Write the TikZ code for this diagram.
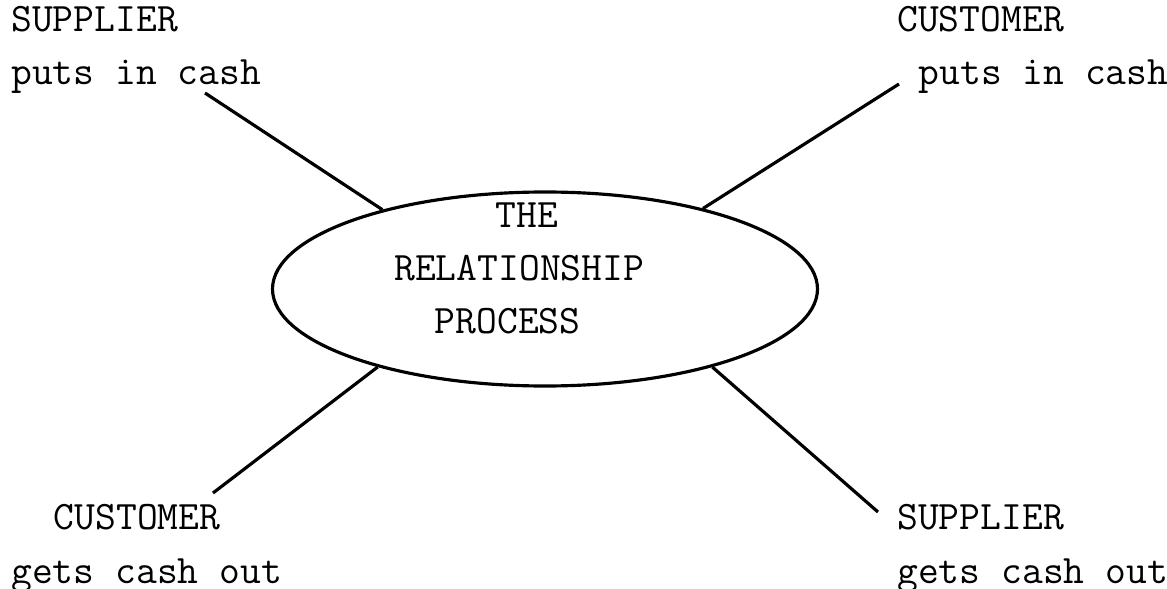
\documentclass[tikz,border=0pt]{standalone}
\usetikzlibrary{shapes.geometric}

\begin{document}
\begin{tikzpicture}[
        label/.style={anchor=base west, inner sep=0pt, align=left, font=\ttfamily\fontsize{23}{30.4}\selectfont},
        proceso/.style={draw, ellipse, line width=1.8pt, minimum width=10.9cm, minimum height=3.88cm, inner sep=0pt},
        rayo/.style={line width=1.8pt}
    ]
    \useasboundingbox (0,0) rectangle (23.34,-11.78);

    \node (proc) [proceso] at (10.9,-5.78) {};
    \node (proctext) [label] at (7.88,-6.68) {\hspace*{2.5em}THE\\RELATIONSHIP\\\hspace*{1.0em}PROCESS};

    \node (supin) [label] at (0.22,-1.70) {SUPPLIER\\puts in cash};
    \node (custin) [label] at (17.94,-1.70) {CUSTOMER\\\hspace*{0.525em}puts in cash};
    \node (custout) [label] at (0.22,-11.66) {\hspace*{1.05em}CUSTOMER\\gets cash out};
    \node (supout) [label] at (17.94,-11.66) {SUPPLIER\\gets cash out};

    \coordinate (a1) at (4.10,-1.86);
    \coordinate (a2) at (17.98,-1.68);
    \coordinate (a3) at (4.26,-9.86);
    \coordinate (a4) at (17.56,-10.24);

    \draw [rayo] (a1) -- (proc.154.8);
    \draw [rayo] (a2) -- (proc.27.9);
    \draw [rayo] (a3) -- (proc.205.2);
    \draw [rayo] (a4) -- (proc.335.3);
\end{tikzpicture}
\end{document}
